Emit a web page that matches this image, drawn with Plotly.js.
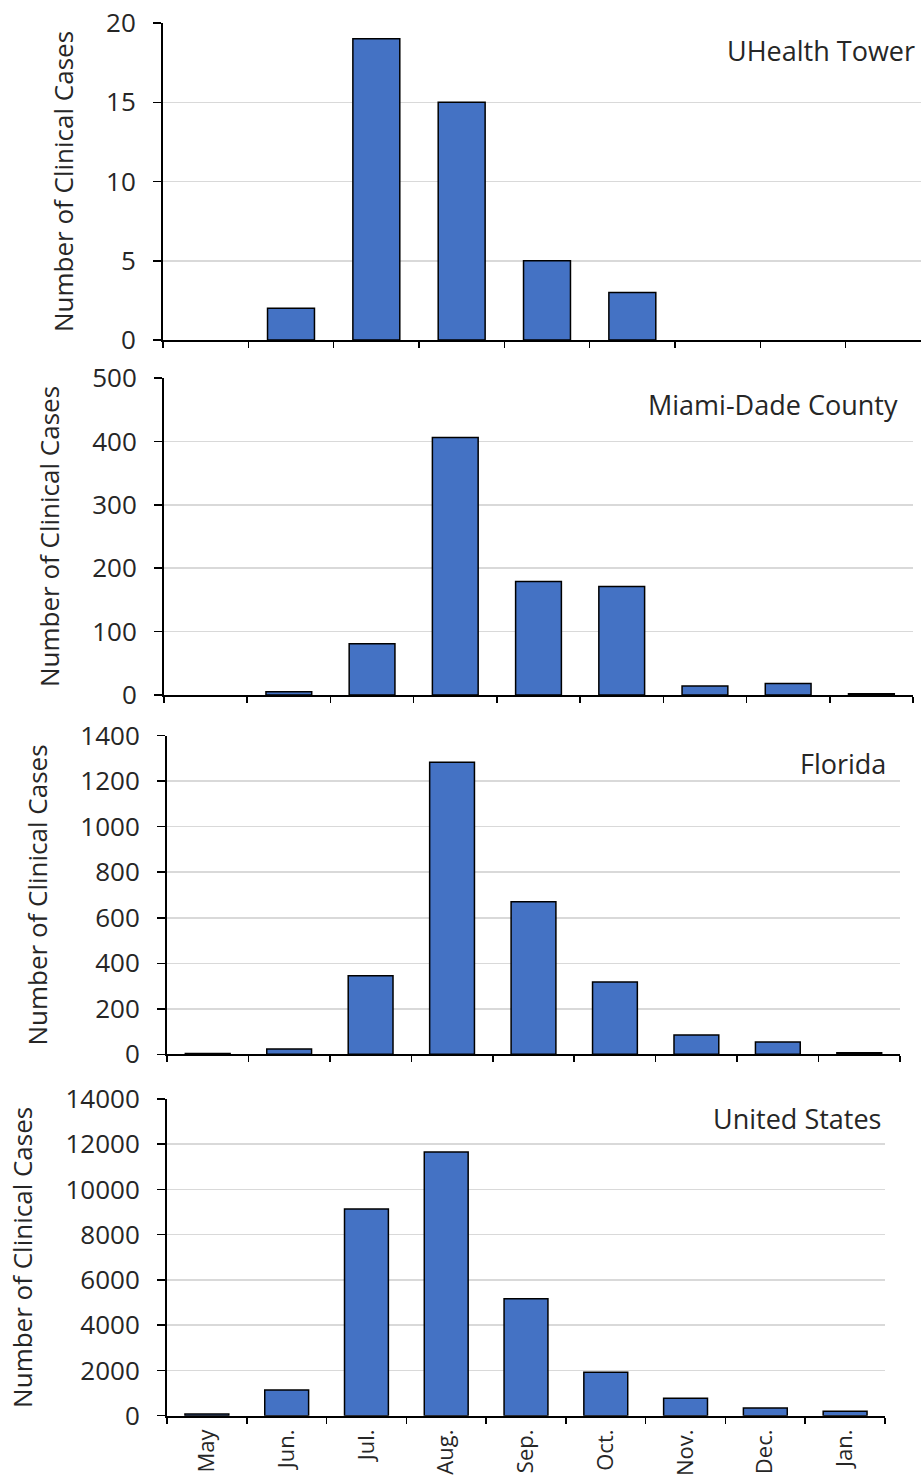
<!DOCTYPE html>
<html>
<head>
<meta charset="utf-8">
<script src="https://cdn.plot.ly/plotly-3.0.1.min.js"></script>
<style>html,body{margin:0;padding:0;background:#fff;}#chart{width:921px;height:1478px;}</style>
</head>
<body>
<div id="chart"></div>
<script>
const months = ["May", "Jun.", "Jul.", "Aug.", "Sep.", "Oct.", "Nov.", "Dec.", "Jan."];
const panelNames = ["UHealth Tower", "Miami-Dade County", "Florida", "United States"];
const uhealth = [0, 2, 19, 15, 5, 3, 0, 0, 0];
const miamiDade = [0, 5, 81, 406, 179, 171, 14, 18, 2];
const florida = [4, 23, 345, 1283, 670, 318, 85, 54, 7];
const unitedStates = [75, 1136, 9137, 11658, 5172, 1918, 769, 340, 195];
const yMax = [20, 500, 1400, 14000];
const yStep = [5, 100, 200, 2000];

const W = 921, H = 1478;
// pixel geometry of each panel: [left, right, top(yMax), bottom(0)]
const geom = [
  [163, 931, 23, 340],
  [164, 913, 378, 695],
  [167, 900, 735.7, 1054.3],
  [167, 885, 1099, 1415.7]
];
const series = [uhealth, miamiDade, florida, unitedStates];
const FONT = "Open Sans, Noto Sans, sans-serif";
const txt = "#262626";
const FS = 26;

const data = [];
const layout = {
  width: W, height: H,
  margin: {l: 0, r: 0, t: 0, b: 0},
  paper_bgcolor: "#fff", plot_bgcolor: "#fff",
  showlegend: false,
  font: {family: FONT, color: txt, size: FS},
  annotations: []
};

series.forEach((vals, i) => {
  const n = i === 0 ? "" : String(i + 1);
  const g = geom[i];
  const catW = (g[1] - g[0]) / 9;
  const xRight = Math.min(g[1], W);
  data.push({
    type: "bar",
    x: months,
    y: vals,
    width: 0.55,
    xaxis: "x" + n, yaxis: "y" + n,
    marker: {color: "#4472C4", line: {color: "#000", width: vals.map(v => v > 0 ? 1.5 : 0)}},
    hoverinfo: "skip"
  });
  layout["xaxis" + n] = {
    type: "category",
    categoryorder: "array", categoryarray: months,
    domain: [g[0] / W, xRight / W],
    range: [-0.5, -0.5 + (xRight - g[0]) / catW],
    anchor: "y" + n,
    showticklabels: i === 3,
    tickangle: -90,
    tickfont: {family: FONT, size: 22, color: txt},
    ticklabelstandoff: 3,
    ticks: "outside", ticklen: 6, tickwidth: 1.5, tickcolor: "#000",
    tickson: "boundaries",
    showline: true, linecolor: "#000", linewidth: 2,
    showgrid: false, zeroline: false, fixedrange: true
  };
  layout["yaxis" + n] = {
    domain: [1 - g[3] / H, 1 - g[2] / H],
    range: [0, yMax[i]],
    anchor: "x" + n,
    dtick: yStep[i], tick0: 0,
    tickformat: "d", separatethousands: false, exponentformat: "none",
    ticks: "outside", ticklen: 8, tickwidth: 1.5, tickcolor: "#000",
    ticklabelstandoff: 12,
    tickfont: {family: FONT, size: FS, color: txt},
    showline: true, linecolor: "#000", linewidth: 2,
    showgrid: true, gridcolor: "#d9d9d9", gridwidth: 1.5,
    zeroline: false, fixedrange: true,
    title: {text: "Number of Clinical Cases", font: {family: FONT, size: FS, color: txt}, standoff: 25}
  };
});

const titlePos = [[917, 51], [900, 405], [888, 763], [883, 1118]];
panelNames.forEach((t, i) => {
  layout.annotations.push({
    text: t, xref: "paper", yref: "paper",
    x: titlePos[i][0] / W, y: 1 - titlePos[i][1] / H,
    xanchor: "right", yanchor: "middle", showarrow: false,
    font: {family: FONT, size: 27, color: txt}
  });
});

Plotly.newPlot("chart", data, layout, {displayModeBar: false, staticPlot: true});
</script>
</body>
</html>
